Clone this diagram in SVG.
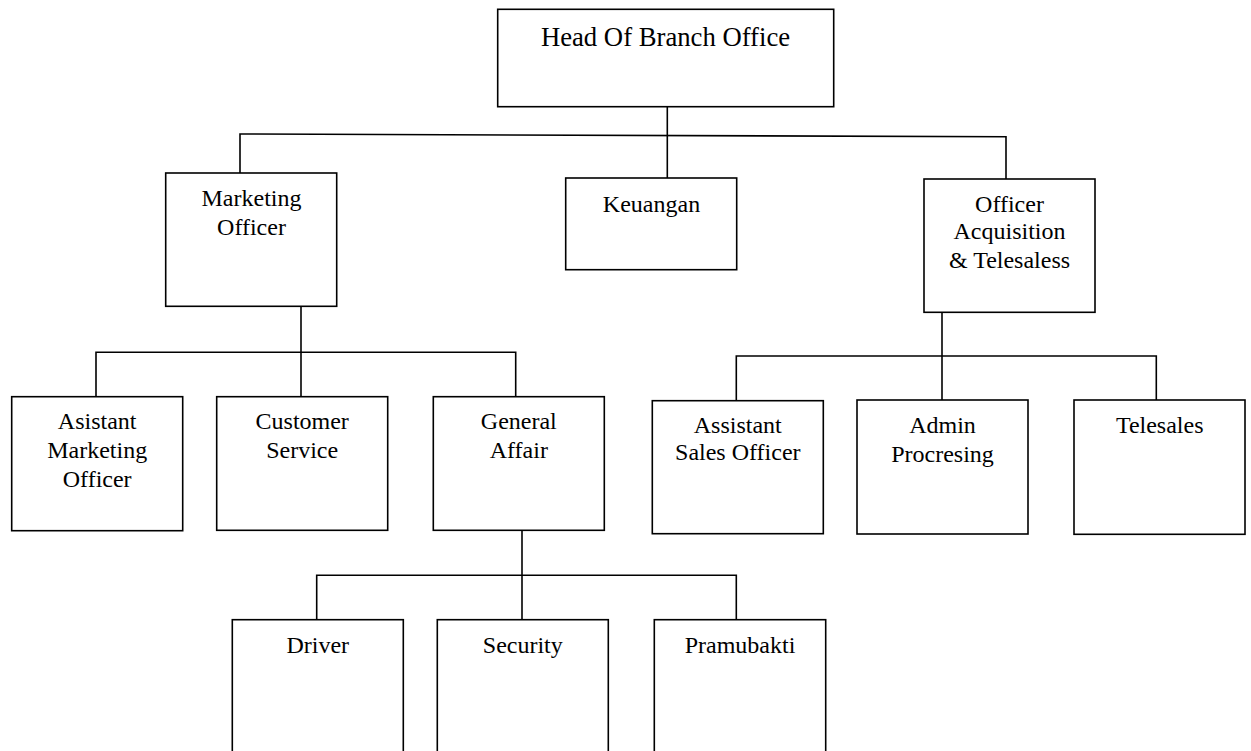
<svg xmlns="http://www.w3.org/2000/svg" width="1251" height="751" viewBox="0 0 1251 751">
<style>
.box{fill:#fff;stroke:#000;stroke-width:1.6}
.ln{fill:none;stroke:#000;stroke-width:1.6}
text{font-family:"Liberation Serif","Times New Roman",serif;font-size:24px;fill:#000;text-anchor:middle}
.big{font-size:26.7px}
</style>
<rect width="1251" height="751" fill="#fff"/>
<g id="connectors">
<polyline class="ln" points="240,173 240,134 1006,136.7 1006,179"/>
<line class="ln" x1="667.3" y1="106.7" x2="667.3" y2="178"/>
<line class="ln" x1="301" y1="306.3" x2="301" y2="396.7"/>
<polyline class="ln" points="96,396.7 96,352.3 515.7,352.3 515.7,396.7"/>
<line class="ln" x1="942" y1="312.3" x2="942" y2="400"/>
<polyline class="ln" points="736.3,400.7 736.3,356 1156.3,356 1156.3,400"/>
<line class="ln" x1="522" y1="530.3" x2="522" y2="619.7"/>
<polyline class="ln" points="316.7,619.7 316.7,575.3 736.3,575.3 736.3,619.7"/>
</g>
<g id="head"><rect class="box" x="497.7" y="9.3" width="336" height="97.4"/><text class="big" x="665.5" y="46">Head Of Branch Office</text></g>
<g id="marketing"><rect class="box" x="165.7" y="173" width="171" height="133.3"/><text x="251.5" y="205.7">Marketing</text><text x="251.5" y="235">Officer</text></g>
<g id="keuangan"><rect class="box" x="565.7" y="178" width="171" height="91.7"/><text x="651.5" y="212">Keuangan</text></g>
<g id="officer-acq"><rect class="box" x="924" y="179" width="171" height="133.3"/><text x="1009.5" y="211.5">Officer</text><text x="1009.5" y="239">Acquisition</text><text x="1009.5" y="267.5">&amp; Telesaless</text></g>
<g id="asistant-mkt"><rect class="box" x="11.7" y="396.7" width="171" height="134"/><text x="97.2" y="429.3">Asistant</text><text x="97.2" y="458.3">Marketing</text><text x="97.2" y="486.7">Officer</text></g>
<g id="customer"><rect class="box" x="216.7" y="396.7" width="171" height="133.6"/><text x="302.2" y="429.3">Customer</text><text x="302.2" y="458.3">Service</text></g>
<g id="general"><rect class="box" x="433.3" y="396.7" width="171" height="133.6"/><text x="518.8" y="429">General</text><text x="518.8" y="457.7">Affair</text></g>
<g id="assistant-sales"><rect class="box" x="652.3" y="400.7" width="171" height="133"/><text x="737.8" y="432.7">Assistant</text><text x="737.8" y="460">Sales Officer</text></g>
<g id="admin"><rect class="box" x="857" y="400" width="171" height="134"/><text x="942.5" y="432.7">Admin</text><text x="942.5" y="461.7">Procresing</text></g>
<g id="telesales"><rect class="box" x="1074" y="400" width="171" height="134.3"/><text x="1159.7" y="433.3">Telesales</text></g>
<g id="driver"><rect class="box" x="232.3" y="619.7" width="171" height="150"/><text x="317.8" y="653.3">Driver</text></g>
<g id="security"><rect class="box" x="437.3" y="619.7" width="171" height="150"/><text x="522.8" y="653.3">Security</text></g>
<g id="pramubakti"><rect class="box" x="654.3" y="619.7" width="171.4" height="150"/><text x="740" y="653.3">Pramubakti</text></g>
</svg>
